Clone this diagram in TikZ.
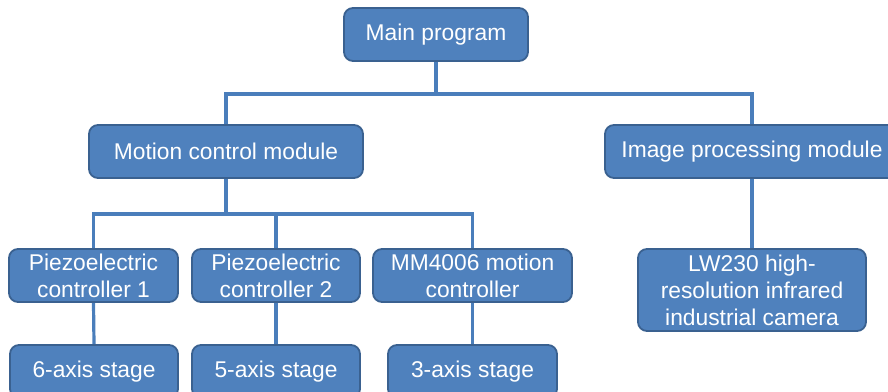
\documentclass[tikz,border=0pt]{standalone}
\usepackage{fontspec}
\setmainfont{Liberation Sans}
\usetikzlibrary{backgrounds}
\definecolor{boxfill}{HTML}{4F81BD}
\definecolor{boxedge}{HTML}{3A6190}
\definecolor{wire}{HTML}{4A7EBB}
\begin{document}
\begin{tikzpicture}[x=1pt,y=-1pt,
  blk/.style={draw=boxedge,line width=1.8pt,fill=boxfill,rounded corners=9pt,
    text=white,align=center,inner sep=0pt,
    font=\fontsize{22.8}{27}\selectfont},
  conn/.style={draw=wire,line width=3.2pt}]
\useasboundingbox (0,0) rectangle (888,391);
\clip (0,0) rectangle (888,391);
% top level
\node[blk,minimum width=184pt,minimum height=53pt] (main) at (436,34.5) {Main program};
% modules
\node[blk,minimum width=274pt,minimum height=53pt] (motion) at (226,151.5) {Motion control module};
\node[blk,minimum width=294pt,minimum height=53pt] (image) at (752,151.5) {Image processing module};
% controllers
\node[blk,minimum width=169pt,minimum height=53pt] (p1) at (93.5,275.5) {Piezoelectric\\controller 1};
\node[blk,minimum width=168pt,minimum height=53pt] (p2) at (276,275.5) {Piezoelectric\\controller 2};
\node[blk,minimum width=199pt,minimum height=53pt] (mm) at (472.5,275.5) {MM4006 motion\\controller};
\node[blk,minimum width=228pt,minimum height=82pt] (cam) at (752,290) {LW230 high-\\resolution infrared\\industrial camera};
% stages
\node[blk,minimum width=168pt,minimum height=53pt] (s1) at (94,371.5) {6-axis stage};
\node[blk,minimum width=168pt,minimum height=53pt] (s2) at (276,371.5) {5-axis stage};
\node[blk,minimum width=169pt,minimum height=53pt] (s3) at (472.5,371.5) {3-axis stage};
% connectors, drawn behind the boxes
\coordinate (busA) at (436,94);
\coordinate (busB) at (226,214);
\begin{scope}[on background layer]
\draw[conn] (main.south) -- (busA) -| (motion.north);
\draw[conn] (busA) -| (image.north);
\draw[conn] (motion.south) -- (busB) -| (p1.north);
\draw[conn] (busB) -| (p2.north);
\draw[conn] (busB) -| (mm.north);
\draw[conn] (p1.south) -- (s1.north);
\draw[conn] (p2.south) -- (s2.north);
\draw[conn] (mm.south) -- (s3.north);
\draw[conn] (image.south) -- (cam.north);
\end{scope}
\end{tikzpicture}
\end{document}
